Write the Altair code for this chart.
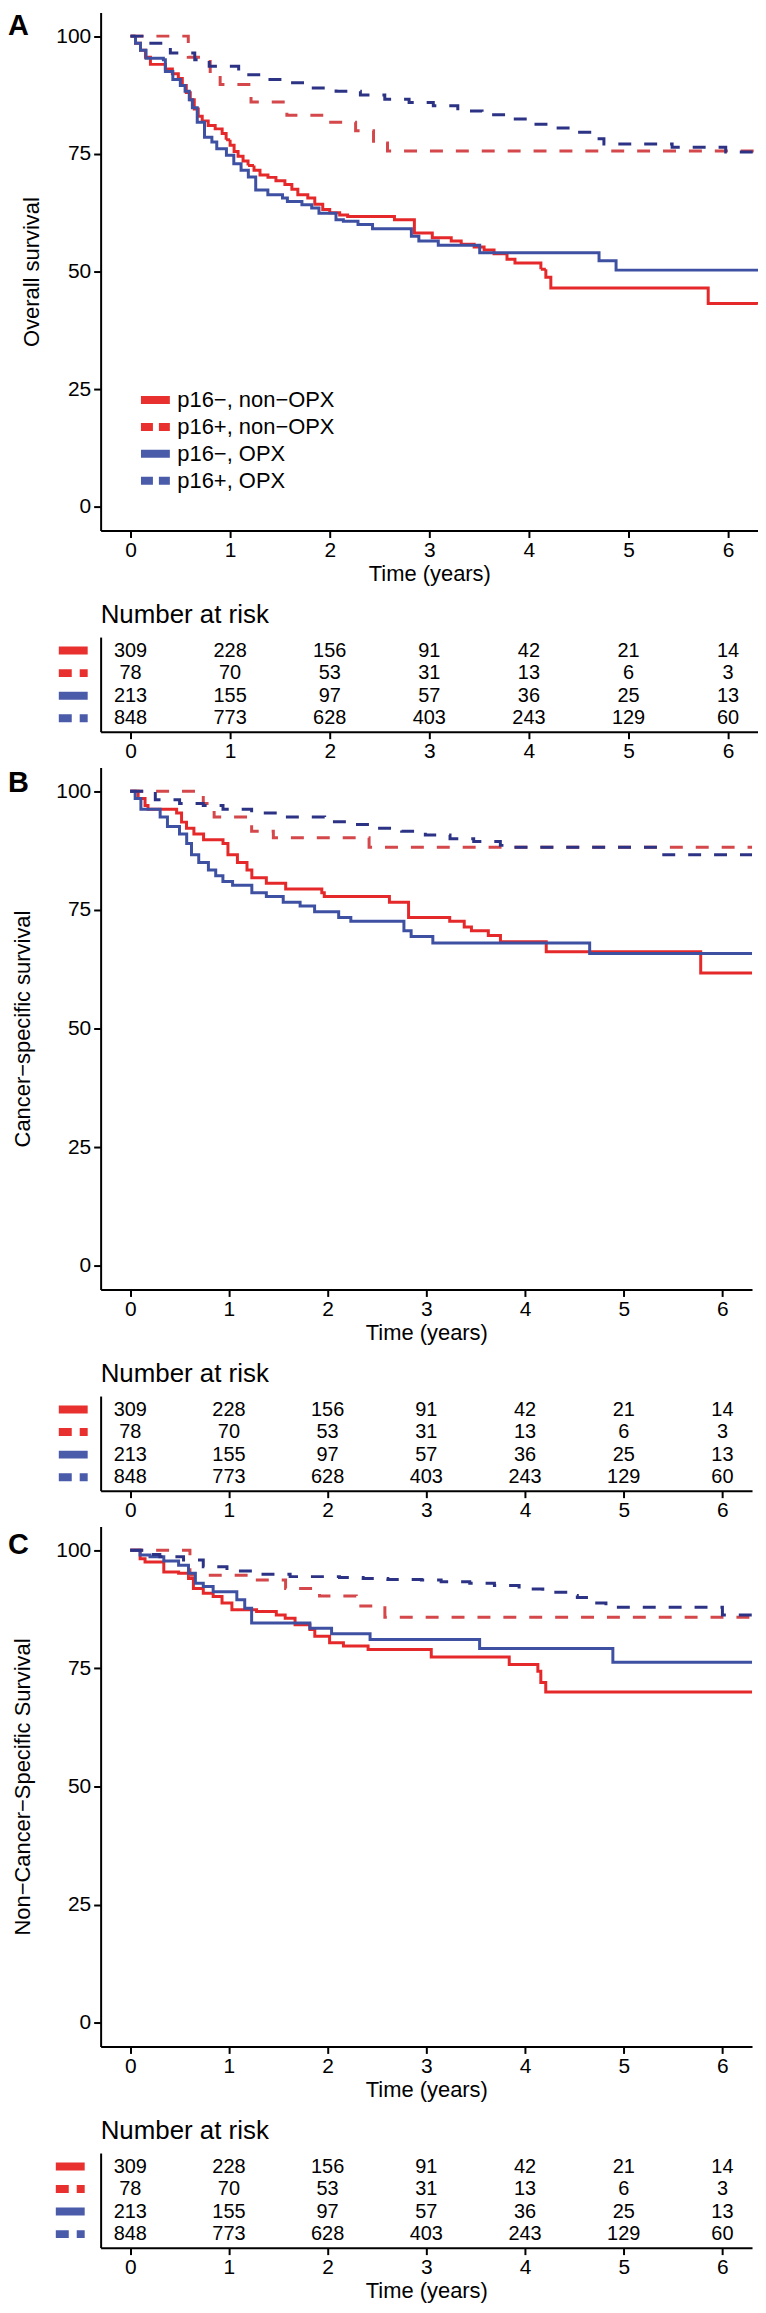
import altair as alt
import pandas as pd

FONT = "Liberation Sans"
GROUPS = ["p16−, non−OPX", "p16+, non−OPX", "p16−, OPX", "p16+, OPX"]
LINE_COLORS = ["#E5282A", "#D4474A", "#3E50A2", "#2C3385"]
KEY_COLORS = ["#E8312E", "#E8312E", "#4A5BAA", "#4A5BAA"]
LINE_DASH = [[1, 0], [13, 13], [1, 0], [13, 13]]
LEGEND_DASH = [[1, 0], [12, 6], [1, 0], [12, 6]]
TABLE_DASH = [[1, 0], [13, 8], [1, 0], [13, 8]]
X_TICKS = [0, 1, 2, 3, 4, 5, 6]
Y_TICKS = [0, 25, 50, 75, 100]

# ---- number at risk (same table under each panel) ----
RISK_TIMES = [0, 1, 2, 3, 4, 5, 6]
RISK_NEG_NON = [309, 228, 156, 91, 42, 21, 14]
RISK_POS_NON = [78, 70, 53, 31, 13, 6, 3]
RISK_NEG_OPX = [213, 155, 97, 57, 36, 25, 13]
RISK_POS_OPX = [848, 773, 628, 403, 243, 129, 60]

# ---- Panel A: overall survival ----
A_NEG_NON_T = [0, 0.05, 0.10, 0.15, 0.20, 0.35, 0.42, 0.48, 0.52, 0.56, 0.60, 0.64, 0.68, 0.72, 0.78,
               0.85, 0.92, 0.96, 1.00, 1.04, 1.08, 1.13, 1.18, 1.24, 1.30, 1.38, 1.46, 1.55, 1.62, 1.68,
               1.78, 1.85, 1.93, 2.00, 2.10, 2.18, 2.65, 2.85, 3.03, 3.22, 3.32, 3.45, 3.55, 3.65, 3.78,
               3.86, 4.12, 4.17, 4.22, 5.80, 6.40]
A_NEG_NON_S = [100, 98.5, 97, 95.5, 94, 93, 92, 91, 89.5, 88, 86.5, 84.5, 83, 82, 81,
               80.3, 79.3, 78, 76.8, 75.5, 74.5, 73.5, 72.5, 71.5, 70.5, 70, 69.3, 68.5, 67.5, 66.3,
               65.6, 64.3, 63.2, 62.5, 62, 61.7, 61, 58.2, 57.2, 56.5, 55.8, 55.2, 54.6, 53.8, 52.6,
               51.8, 50.5, 48.8, 46.5, 43.2, 43.2]
A_POS_NON_T = [0, 0.58, 0.80, 0.90, 1.21, 1.57, 1.92, 2.26, 2.44, 2.58, 6.40]
A_POS_NON_S = [100, 95.5, 92.5, 89.7, 86.0, 83.2, 81.7, 79.9, 77.3, 75.6, 75.6]
A_NEG_OPX_T = [0, 0.05, 0.10, 0.156, 0.33, 0.35, 0.425, 0.50, 0.548, 0.59, 0.621, 0.67, 0.743, 0.817,
               0.866, 0.963, 1.037, 1.11, 1.183, 1.257, 1.379, 1.526, 1.575, 1.721, 1.819, 1.892, 2.063,
               2.137, 2.284, 2.43, 2.82, 2.895, 3.09, 3.506, 4.704, 4.875, 6.40]
A_NEG_OPX_S = [100, 98.5, 97, 95.3, 95.0, 92.5, 90.8, 89.5, 88.3, 86.5, 84.8, 81.7, 78.5, 77.5,
               76.1, 74.7, 72.9, 71.5, 70.1, 67.3, 66.3, 65.6, 64.9, 64.2, 63.5, 62.4, 61.0,
               60.7, 60.0, 59.1, 57.5, 56.5, 55.6, 54.0, 52.3, 50.3, 50.3]
A_POS_OPX_T = [0, 0.156, 0.40, 0.645, 0.79, 1.086, 1.33, 1.575, 1.819, 2.064, 2.308, 2.553, 2.797,
               3.04, 3.286, 3.53, 3.775, 4.02, 4.264, 4.509, 4.655, 4.753, 5.438, 5.976, 6.40]
A_POS_OPX_S = [100, 98.5, 96.4, 95.0, 93.6, 91.8, 90.8, 90.1, 89.0, 88.3, 87.5, 86.6, 85.9,
               85.2, 84.1, 83.3, 82.4, 81.3, 80.5, 79.6, 78.2, 77.1, 76.4, 75.4, 75.4]

# ---- Panel B: cancer-specific survival ----
B_NEG_NON_T = [0, 0.08, 0.15, 0.18, 0.47, 0.52, 0.57, 0.645, 0.743, 0.94, 0.99, 1.086, 1.183, 1.232,
               1.379, 1.575, 1.941, 1.966, 2.626, 2.82, 3.237, 3.384, 3.457, 3.628, 3.751, 4.215, 5.78, 6.40]
B_NEG_NON_S = [100, 98.5, 97.0, 96.2, 95.4, 93.5, 92.2, 91.0, 89.8, 89.0, 86.6, 85.0, 83.4, 81.8,
               80.6, 79.4, 78.6, 77.8, 76.6, 73.4, 72.6, 71.4, 70.6, 69.6, 68.3, 66.2, 61.7, 61.7]
B_POS_NON_T = [0, 0.74, 0.85, 1.23, 1.45, 2.42, 6.40]
B_POS_NON_S = [100, 97.4, 94.6, 91.6, 90.2, 88.2, 88.2]
B_NEG_OPX_T = [0, 0.05, 0.108, 0.303, 0.377, 0.499, 0.572, 0.621, 0.694, 0.792, 0.866, 0.939, 1.037,
               1.232, 1.379, 1.55, 1.721, 1.868, 2.112, 2.235, 2.773, 2.846, 3.066, 4.655, 6.40]
B_NEG_OPX_S = [100, 98.5, 96.2, 94.6, 92.6, 91.0, 89.0, 86.6, 85.0, 83.4, 82.2, 81.0, 80.2,
               78.6, 77.8, 76.6, 75.8, 74.6, 73.4, 72.6, 70.6, 69.4, 68.0, 65.8, 65.8]
B_POS_OPX_T = [0, 0.254, 0.50, 0.74, 0.94, 1.23, 1.57, 1.97, 2.26, 2.50, 2.75, 2.99, 3.24, 3.48,
               3.75, 3.87, 5.39, 6.40]
B_POS_OPX_S = [100, 98.2, 97.4, 97.0, 96.2, 95.4, 94.6, 93.6, 93.0, 92.2, 91.6, 90.8, 90.0, 89.4,
               88.6, 88.2, 86.6, 86.6]

# ---- Panel C: non-cancer-specific survival ----
C_NEG_NON_T = [0, 0.10, 0.15, 0.34, 0.49, 0.59, 0.64, 0.74, 0.84, 0.93, 1.03, 1.28, 1.48, 1.57, 1.67,
               1.82, 1.87, 2.02, 2.16, 2.41, 3.05, 3.84, 4.13, 4.16, 4.21, 6.40]
C_NEG_NON_S = [100, 98.2, 97.5, 95.4, 95.1, 94.0, 91.9, 90.9, 90.2, 88.8, 87.4, 87.0, 86.3, 85.6, 84.2,
               83.2, 81.8, 80.4, 79.7, 79.0, 77.4, 75.8, 74.4, 72.0, 70.0, 70.0]
C_POS_NON_T = [0, 0.605, 1.205, 1.574, 1.918, 2.29, 2.58, 6.40]
C_POS_NON_S = [100, 94.7, 93.7, 91.9, 90.3, 88.2, 85.8, 85.8]
C_NEG_OPX_T = [0, 0.10, 0.20, 0.34, 0.49, 0.59, 0.66, 0.74, 0.84, 1.08, 1.16, 1.23, 1.82, 2.04, 2.43,
               3.54, 4.89, 6.40]
C_NEG_OPX_S = [100, 99.0, 98.6, 97.7, 96.8, 95.1, 93.0, 92.3, 91.2, 89.5, 87.7, 84.6, 83.5, 82.3, 81.1,
               79.2, 76.3, 76.3]
C_POS_OPX_T = [0, 0.15, 0.30, 0.54, 0.74, 0.98, 1.28, 1.62, 2.12, 2.36, 2.61, 2.95, 3.15, 3.44, 3.69,
               3.94, 4.18, 4.43, 4.53, 4.67, 4.82, 6.00, 6.40]
C_POS_OPX_S = [100, 99.1, 98.6, 97.9, 96.5, 95.6, 94.9, 94.4, 94.2, 94.0, 93.8, 93.7, 93.3, 93.0, 92.5,
               91.8, 91.1, 90.4, 90.0, 88.8, 87.9, 86.3, 86.3]


def curve_frame(series):
    rows = []
    for g, ts, ss in series:
        assert len(ts) == len(ss)
        for i, (t, s) in enumerate(zip(ts, ss)):
            rows.append({"group": g, "t": t, "s": s, "order": i})
    return pd.DataFrame(rows)


def risk_frame():
    rows = []
    for g, ns in zip(GROUPS, [RISK_NEG_NON, RISK_POS_NON, RISK_NEG_OPX, RISK_POS_OPX]):
        for t, n in zip(RISK_TIMES, ns):
            rows.append({"group": g, "t": t, "n": n})
    return pd.DataFrame(rows)


def xscale():
    return alt.Scale(domain=[-0.3, 6.3], nice=False, zero=False)


def km_plot(series, ytitle, letter, letter_y, width, height, ytitle_pad, with_legend):
    df = curve_frame(series)
    ys = alt.Scale(domain=[-5, 105], nice=False, zero=False)
    lines = alt.Chart(df).mark_line(interpolate="step-after", clip=True, strokeWidth=3).encode(
        x=alt.X("t:Q", scale=xscale(),
                axis=alt.Axis(values=X_TICKS, format="d", title="Time (years)", titlePadding=3,
                              labelPadding=2, labelFlush=False)),
        y=alt.Y("s:Q", scale=ys,
                axis=alt.Axis(values=Y_TICKS, format="d", title=ytitle, titlePadding=ytitle_pad,
                              labelPadding=3, labelFlush=False)),
        color=alt.Color("group:N", scale=alt.Scale(domain=GROUPS, range=LINE_COLORS), legend=None),
        strokeDash=alt.StrokeDash("group:N", scale=alt.Scale(domain=GROUPS, range=LINE_DASH), legend=None),
        order="order:Q",
    )
    lab = alt.Chart(pd.DataFrame({"lab": [letter]})).mark_text(
        align="left", baseline="top", fontSize=29, fontWeight="bold", font=FONT, color="black"
    ).encode(x=alt.value(-93), y=alt.value(letter_y), text="lab:N")
    layers = [lines]
    if with_legend:
        leg = alt.Legend(title=None, orient="none", legendX=44, legendY=378,
                         symbolType="M-2.9,0H2.9", symbolSize=100, symbolStrokeWidth=8,
                         labelFont=FONT, labelFontSize=22, labelColor="black", rowPadding=-5,
                         labelOffset=11, padding=0, labelLimit=400)
        leg_df = pd.DataFrame({"key": GROUPS, "t": [-10] * 4, "s": [-50] * 4})
        legend_layer = alt.Chart(leg_df).mark_line(clip=True).encode(
            x=alt.X("t:Q", scale=xscale()),
            y=alt.Y("s:Q", scale=ys),
            color=alt.Color("key:N", scale=alt.Scale(domain=GROUPS, range=KEY_COLORS), legend=leg),
            strokeDash=alt.StrokeDash("key:N", scale=alt.Scale(domain=GROUPS, range=LEGEND_DASH), legend=leg),
        )
        layers.append(legend_layer)
    layers.append(lab)
    return alt.layer(*layers).resolve_scale(color="independent", strokeDash="independent").properties(
        width=width, height=height)


def risk_table(width, height, key_x, key_x2, xtitle):
    df = risk_frame()
    ysc = alt.Scale(type="point", domain=GROUPS, padding=0.6)
    xaxis = alt.Axis(values=X_TICKS, format="d", title=xtitle, titlePadding=3, labelPadding=2,
                     labelFlush=False)
    text = alt.Chart(df).mark_text(fontSize=20, font=FONT, color="black").encode(
        x=alt.X("t:Q", scale=xscale(), axis=xaxis),
        y=alt.Y("group:N", scale=ysc, axis=alt.Axis(labels=False, ticks=False, title=None)),
        text="n:Q",
    )
    keys = alt.Chart(pd.DataFrame({"group": GROUPS})).mark_rule(strokeWidth=8).encode(
        x=alt.value(key_x), x2=alt.value(key_x2),
        y=alt.Y("group:N", scale=ysc),
        color=alt.Color("group:N", scale=alt.Scale(domain=GROUPS, range=KEY_COLORS), legend=None),
        strokeDash=alt.StrokeDash("group:N", scale=alt.Scale(domain=GROUPS, range=TABLE_DASH), legend=None),
    )
    return alt.layer(text, keys).properties(
        width=width, height=height,
        title=alt.Title("Number at risk", anchor="start", frame="group", fontSize=26, fontWeight="normal",
                        baseline="alphabetic", offset=12, dy=24, font=FONT, color="black"),
    )


def panel(plot, table):
    return alt.vconcat(plot, table, spacing=107, bounds="flush").resolve_scale(
        x="independent", y="independent", color="independent", strokeDash="independent")


plotA = km_plot([(GROUPS[0], A_NEG_NON_T, A_NEG_NON_S), (GROUPS[1], A_POS_NON_T, A_POS_NON_S),
                 (GROUPS[2], A_NEG_OPX_T, A_NEG_OPX_S), (GROUPS[3], A_POS_OPX_T, A_POS_OPX_S)],
                "Overall survival", "A", 0, 660, 520, 12, True)
plotB = km_plot([(GROUPS[0], B_NEG_NON_T, B_NEG_NON_S), (GROUPS[1], B_POS_NON_T, B_POS_NON_S),
                 (GROUPS[2], B_NEG_OPX_T, B_NEG_OPX_S), (GROUPS[3], B_POS_OPX_T, B_POS_OPX_S)],
                "Cancer−specific survival", "B", 2, 654, 524, 21, False)
plotC = km_plot([(GROUPS[0], C_NEG_NON_T, C_NEG_NON_S), (GROUPS[1], C_POS_NON_T, C_POS_NON_S),
                 (GROUPS[2], C_NEG_OPX_T, C_NEG_OPX_S), (GROUPS[3], C_POS_OPX_T, C_POS_OPX_S)],
                "Non−Cancer−Specific Survival", "C", 5, 654, 522, 21, False)

tableA = risk_table(660, 95, -42, -13, None)
tableB = risk_table(654, 95, -42, -13, None)
tableC = risk_table(654, 95, -45, -16, "Time (years)")

chart = alt.vconcat(panel(plotA, tableA), panel(plotB, tableB), panel(plotC, tableC), spacing=6).resolve_scale(
    x="independent", y="independent", color="independent", strokeDash="independent"
).properties(padding=0).configure_axis(
    labelFont=FONT, titleFont=FONT, labelColor="black", titleColor="black",
    domainColor="black", tickColor="black", domainWidth=2, tickWidth=2, tickSize=7,
    grid=False, labelFontSize=21, titleFontSize=22, titleFontWeight="normal",
).configure_view(stroke=None)

chart.save("out.html", embed_options={"renderer": "svg", "actions": False})
